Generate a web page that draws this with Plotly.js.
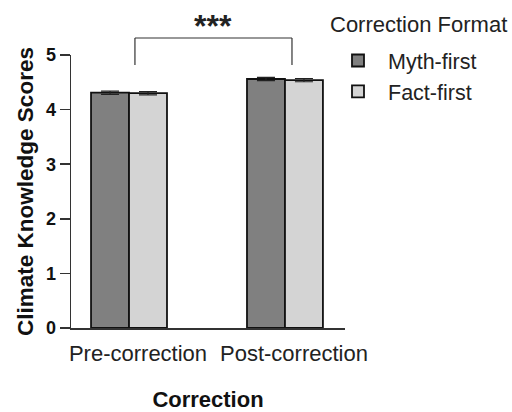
<!DOCTYPE html>
<html><head><meta charset="utf-8">
<script src="https://cdn.plot.ly/plotly-3.0.1.min.js"></script>
<style>body{margin:0;background:#fff}#c{width:512px;height:412px}</style>
</head><body><div id="c"></div>
<script>
const categories = ["Pre-correction", "Post-correction"];
const seriesNames = ["Myth-first", "Fact-first"];
const mythFirst = [4.31, 4.56];
const factFirst = [4.30, 4.54];
const mythErr = [0.03, 0.03];
const factErr = [0.03, 0.03];
const yTicks = [0, 1, 2, 3, 4, 5];
const sigLabel = "***";
const legendTitle = "Correction Format";

const font = "Liberation Sans, Arial, sans-serif";
function bar(name, y, err, color) {
  return {
    type: "bar", name: name, x: categories, y: y,
    marker: {color: color, line: {color: "#111", width: 1.8}},
    error_y: {type: "data", array: err, visible: true, color: "#222", thickness: 1.2, width: 9}
  };
}
const data = [
  bar(seriesNames[0], mythFirst, mythErr, "#808080"),
  bar(seriesNames[1], factFirst, factErr, "#d4d4d4")
];
// paper height = 412-10-84 = 318 ; pixel p -> (328-p)/318
const py = p => (328 - p) / 318;
const layout = {
  width: 512, height: 412,
  margin: {l: 71, r: 167, t: 10, b: 84},
  paper_bgcolor: "#fff", plot_bgcolor: "#fff",
  barmode: "group", bargap: 0.513, bargroupgap: 0,
  font: {family: font, color: "#111"},
  xaxis: {
    range: [-0.372, 1.385], showline: true, linecolor: "#333", linewidth: 1.5,
    ticks: "", tickfont: {size: 22, color: "#222"}, ticklabelshift: 9, ticklabelstandoff: 5,
    title: {text: "<b>Correction</b>", font: {size: 22}, standoff: 30},
    zeroline: false, showgrid: false
  },
  yaxis: {
    domain: [0, py(55)],
    range: [0, 5], tickvals: yTicks, showline: true, linecolor: "#333", linewidth: 1.5,
    ticks: "outside", ticklen: 10, tickwidth: 1.5, tickcolor: "#333",
    tickfont: {size: 18, color: "#111", weight: "bold"},
    title: {text: "<b>Climate Knowledge Scores</b>", font: {size: 22.5}, standoff: 6},
    showgrid: false, zeroline: false
  },
  legend: {
    x: (328 - 71) / 274, y: py(40), xanchor: "left", yanchor: "top",
    font: {size: 21.5, color: "#222"}, itemwidth: 50, tracegroupgap: 0, bgcolor: "rgba(0,0,0,0)"
  },
  showlegend: true,
  shapes: [
    {type: "line", xref: "x", yref: "paper", x0: 0.038, x1: 0.038, y0: py(65), y1: py(38), line: {color: "#333", width: 1.2}},
    {type: "line", xref: "x", yref: "paper", x0: 0.038, x1: 1.045, y0: py(38), y1: py(38), line: {color: "#333", width: 1.2}},
    {type: "line", xref: "x", yref: "paper", x0: 1.045, x1: 1.045, y0: py(65), y1: py(38), line: {color: "#333", width: 1.2}}
  ],
  annotations: [
    {text: "<b>" + sigLabel + "</b>", xref: "x", yref: "paper", x: 0.54, y: py(26), yanchor: "middle", showarrow: false, font: {size: 32, color: "#222"}},
    {text: legendTitle, xref: "paper", yref: "paper", x: (328 - 71) / 274, y: py(25), xanchor: "left", yanchor: "middle", showarrow: false, font: {size: 22, color: "#222"}}
  ]
};
Plotly.newPlot("c", data, layout, {displayModeBar: false, staticPlot: true});
</script></body></html>
